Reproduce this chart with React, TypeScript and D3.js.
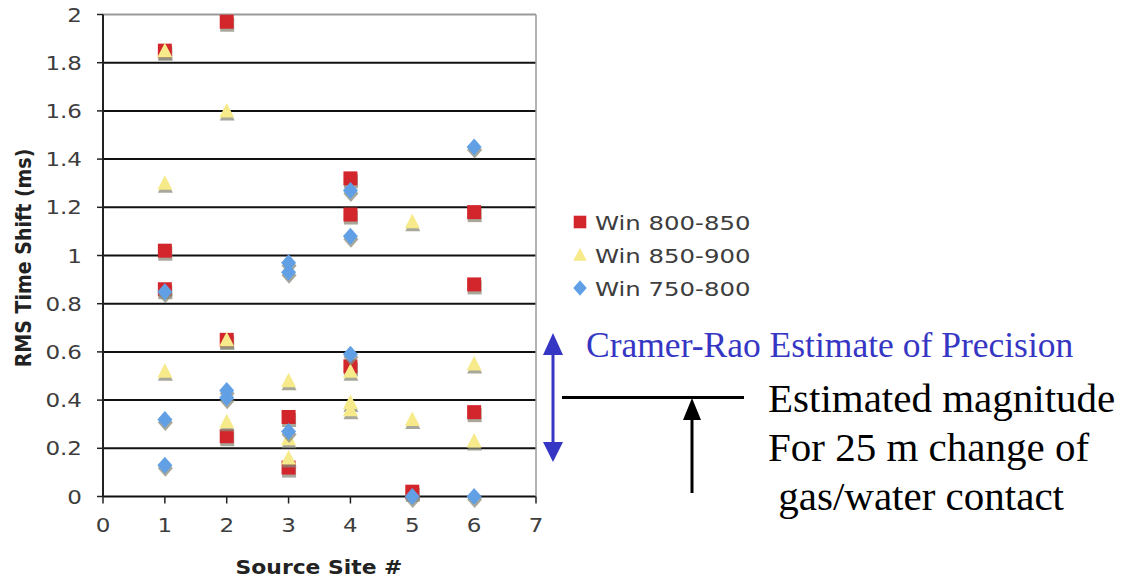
import React from "react";
import * as d3 from "d3";

const xTicks = [0, 1, 2, 3, 4, 5, 6, 7];
const yTicks = [0, 0.2, 0.4, 0.6, 0.8, 1, 1.2, 1.4, 1.6, 1.8, 2];

const seriesNames = ["Win 800-850", "Win 850-900", "Win 750-800"];

const redSites = [1, 1, 1, 2, 2, 2, 3, 3, 4, 4, 4, 5, 6, 6, 6];
const redValues = [1.85, 1.02, 0.86, 1.97, 0.65, 0.25, 0.33, 0.12, 1.32, 1.17, 0.54, 0.02, 1.18, 0.88, 0.35];

const yellowSites = [1, 1, 1, 2, 2, 2, 3, 3, 3, 4, 4, 4, 5, 5, 6, 6];
const yellowValues = [1.85, 1.3, 0.52, 1.6, 0.65, 0.31, 0.48, 0.24, 0.16, 0.52, 0.39, 0.36, 1.14, 0.32, 0.55, 0.23];

const blueSites = [1, 1, 1, 2, 2, 3, 3, 3, 4, 4, 4, 5, 6, 6];
const blueValues = [0.85, 0.32, 0.13, 0.44, 0.41, 0.97, 0.93, 0.27, 1.27, 1.08, 0.59, 0.0, 1.45, 0.0];

const precisionLabel = "Cramer-Rao Estimate of Precision";
const magnitudeLines = ["Estimated magnitude", "For 25 m change of", " gas/water contact"];

const W = 1137;
const H = 579;

const x = d3.scaleLinear().domain([0, 7]).range([103, 536]);
const y = d3.scaleLinear().domain([0, 2]).range([496.5, 14.5]);

const RED = "#d3262c";
const YELLOW = "#f6ea8a";
const BLUE = "#62a0e6";
const TXT = "#3d3d3d";
const ANN_BLUE = "#3636c4";

type Shape = "square" | "triangle" | "diamond";

function markerPath(shape: Shape): string {
  if (shape === "square") return "M-7,-7H7V7H-7Z";
  if (shape === "triangle") return "M0,-8L7.5,6.5H-7.5Z";
  return "M0,-8.5L7.5,0L0,8.5L-7.5,0Z";
}

const series = [
  { name: seriesNames[0], sites: redSites, values: redValues, color: RED, shape: "square" as Shape },
  { name: seriesNames[1], sites: yellowSites, values: yellowValues, color: YELLOW, shape: "triangle" as Shape },
  { name: seriesNames[2], sites: blueSites, values: blueValues, color: BLUE, shape: "diamond" as Shape },
];

const fmt = (v: number) => String(+v.toFixed(1));
const SX = 1.18;

export default function App() {
  return (
    <svg width={W} height={H} style={{ position: "absolute", left: 0, top: 0, background: "#fff" }}>
      {/* gridlines */}
      {yTicks.map((t) => (
        <line
          key={"g" + t}
          x1={x(0)}
          x2={x(7)}
          y1={y(t)}
          y2={y(t)}
          stroke={t === 2 ? "#9a9a9a" : "#111"}
          strokeWidth={2}
        />
      ))}
      {/* right border */}
      <line x1={x(7)} x2={x(7)} y1={y(2)} y2={y(0)} stroke="#9a9a9a" strokeWidth={1.5} />
      {/* left axis */}
      <line x1={x(0)} x2={x(0)} y1={y(2)} y2={y(0)} stroke="#222" strokeWidth={2} />
      {yTicks.map((t) => (
        <g key={"yt" + t}>
          <line x1={x(0) - 6} x2={x(0)} y1={y(t)} y2={y(t)} stroke="#222" strokeWidth={1.5} />
          <text
            transform={`translate(${x(0) - 21},${y(t) + 7}) scale(${SX},1)`}
            textAnchor="end"
            fontFamily="DejaVu Sans"
            fontSize={19.5}
            fill={TXT}
          >
            {fmt(t)}
          </text>
        </g>
      ))}
      {/* bottom axis ticks */}
      {xTicks.map((t) => (
        <g key={"xt" + t}>
          <line x1={x(t)} x2={x(t)} y1={y(0)} y2={y(0) + 7} stroke="#222" strokeWidth={1.5} />
          <text
            transform={`translate(${x(t)},${y(0) + 35}) scale(${SX},1)`}
            textAnchor="middle"
            fontFamily="DejaVu Sans"
            fontSize={19.5}
            fill={TXT}
          >
            {t}
          </text>
        </g>
      ))}
      {/* axis titles */}
      <text
        transform={`translate(319,574) scale(1.15,1)`}
        textAnchor="middle"
        fontFamily="DejaVu Sans"
        fontWeight="bold"
        fontSize={19}
        fill="#222"
      >
        Source Site #
      </text>
      <text
        transform={`translate(31,258) scale(1.15,1) rotate(-90)`}
        textAnchor="middle"
        fontFamily="DejaVu Sans"
        fontWeight="bold"
        fontSize={19}
        fill="#222"
      >
        RMS Time Shift (ms)
      </text>

      {/* markers: shadows then fills */}
      {series.map((s) => (
        <g key={"s" + s.name}>
          {s.values.map((v, i) => (
            <path
              key={"sh" + i}
              d={markerPath(s.shape)}
              transform={`translate(${x(s.sites[i]) + 0.5},${y(v) + 3})`}
              fill="#8a8a7a"
              opacity={0.75}
            />
          ))}
          {s.values.map((v, i) => (
            <path
              key={"m" + i}
              d={markerPath(s.shape)}
              transform={`translate(${x(s.sites[i])},${y(v)})`}
              fill={s.color}
            />
          ))}
        </g>
      ))}

      {/* legend */}
      {series.map((s, i) => (
        <g key={"l" + s.name} transform={`translate(0,${222 + i * 33})`}>
          <path d={markerPath(s.shape)} transform="translate(580,0) scale(0.9)" fill={s.color} />
          <text
            transform={`translate(595,8) scale(1.22,1)`}
            fontFamily="DejaVu Sans"
            fontSize={20}
            fill={TXT}
          >
            {s.name}
          </text>
        </g>
      ))}

      {/* Cramer-Rao double arrow */}
      <line x1={553} x2={553} y1={350} y2={446} stroke={ANN_BLUE} strokeWidth={3} />
      <path d="M553,333L563,355H543Z" fill={ANN_BLUE} />
      <path d="M553,462L563,442H543Z" fill={ANN_BLUE} />
      <text x={586} y={357} fontFamily="Liberation Serif" fontSize={35.5} fill={ANN_BLUE}>
        {precisionLabel}
      </text>

      {/* magnitude line and arrow */}
      <line x1={562} x2={744} y1={397.5} y2={397.5} stroke="#000" strokeWidth={3} />
      <line x1={692} x2={692} y1={415} y2={493} stroke="#000" strokeWidth={3} />
      <path d="M692,398L701,420H683Z" fill="#000" />
      {magnitudeLines.map((l, i) => (
        <text
          key={"ml" + i}
          x={768}
          y={412 + i * 49}
          fontFamily="Liberation Serif"
          fontSize={41}
          fill="#000"
          style={{ whiteSpace: "pre" }}
        >
          {l}
        </text>
      ))}
    </svg>
  );
}
